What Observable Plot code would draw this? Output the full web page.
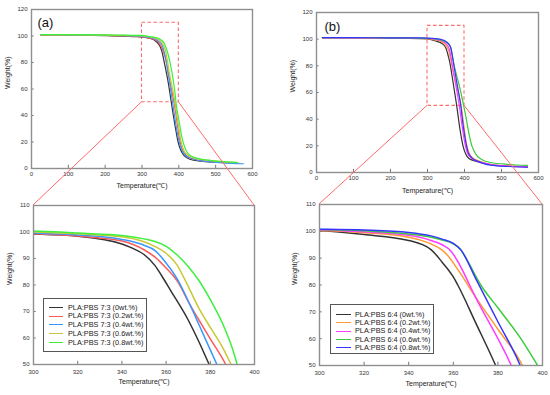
<!DOCTYPE html>
<html><head><meta charset="utf-8">
<script src="https://cdn.jsdelivr.net/npm/d3@7"></script>
<script src="https://cdn.jsdelivr.net/npm/@observablehq/plot@0.6"></script>
<style>
body{margin:0;background:#fff;}
#wrap{position:relative;width:550px;height:395px;overflow:hidden;background:#fff;font-family:"Liberation Sans",Arial,sans-serif;}
#wrap svg{position:absolute;overflow:visible;}
.legend{position:absolute;border:1px solid #555;background:#fff;box-sizing:border-box;}
.legend .row{position:absolute;left:0;right:0;height:0;}
.legend .sw{position:absolute;height:0;border-top:1.6px solid;}
.legend .lb{position:absolute;font-size:7.3px;line-height:1;transform:translateY(-50%);white-space:nowrap;color:#222;}
</style></head>
<body><div id="wrap"></div>
<script>
// ---- labels ----
const namesA = ["PLA:PBS 7:3 (0wt.%)","PLA:PBS 7:3 (0.2wt.%)","PLA:PBS 7:3 (0.4wt.%)","PLA:PBS 7:3 (0.6wt.%)","PLA:PBS 7:3 (0.8wt.%)"];
const namesB = ["PLA:PBS 6:4 (0wt.%)","PLA:PBS 6:4 (0.2wt.%)","PLA:PBS 6:4 (0.4wt.%)","PLA:PBS 6:4 (0.6wt.%)","PLA:PBS 6:4 (0.8wt.%)"];
const colorsA = ["#333333","#ff5a5a","#3a98ff","#c8c832","#3cf03c"];
const colorsB = ["#333333","#ff9a30","#ff3cff","#3ccc3c","#3535ff"];
const xLabel = "Temperature(℃)";
const yLabel = "Weight(%)";
const xTicksFull = [0,100,200,300,400,500,600];
const yTicksFull = [0,20,40,60,80,100,120];
const xTicksZoom = [300,320,340,360,380,400];
const yTicksZoom = [50,60,70,80,90,100,110];
const zoomT = [300,400];
const zoomW = [50,110];

// ---- (a) PLA:PBS 7:3 ----
const tA0 = [25,100,200,250,280,300,320,340,345,350,355,358,362,370,375,379.5,390,398,405,415,430,460,500,560];
const wA0 = [100.9,100.7,100.3,99.9,99.5,99.2,98.4,95.5,93.8,91.5,87.3,83.5,78,66.8,58.3,50,32,20,14,9.5,7,5.5,4.7,3.8];
const tA2 = [25,100,200,250,280,300,320,340,350,355,360,365,371,375,380,387,395,402,410,420,435,460,500,555];
const wA2 = [100.9,100.8,100.4,100.1,99.7,99.3,98.5,96.6,93.3,90.5,86.4,81.6,72.2,66.6,59.7,50,35,22,14,10,7.5,6,5,4.2];
const tA4 = [25,100,200,250,280,300,320,340,350,355,360,365,371,375,380,383,392,400,408,418,435,470,520,575];
const wA4 = [101,100.9,100.5,100.2,99.9,99.6,98.9,97.2,95,93,88.3,82.3,72.2,64.8,55.5,50,33,21,14,10,7.5,5.5,4.3,3.6];
const tA6 = [25,100,200,250,280,300,320,340,350,355,360,365,368.5,375,380,385,389.4,398,405,413,423,440,470,520,560];
const wA6 = [101,100.9,100.6,100.4,100.2,100,99.3,98.2,96.3,94.5,92,87.5,82,71,64,57.3,50,34,22,14,10.5,8,6.5,5,4.5];
const tA8 = [25,100,200,250,280,300,320,340,350,355,360,365,370,375,380,385,390,392.2,400,408,416,426,445,480,530,558];
const wA8 = [101.1,101,100.8,100.6,100.5,100.4,99.6,98.7,97.4,96.4,94.6,91.3,87,81.5,74.5,66.5,56,50,37,24,16,11,8,6.3,5,4.6];

// ---- (b) PLA:PBS 6:4 ----
const tB0 = [16,100,200,250,280,300,320,340,350,355,360,362,370,379,388,396,403,412,430,460,500,570];
const wB0 = [101,100.9,100.8,100.6,100.4,100.2,98.8,96.6,93.2,88.5,83,80,66,50,32,20,14,10.5,8.5,6.5,5,4.2];
const tB2 = [16,100,200,250,280,300,320,340,350,355,357.5,362,370,380,391,398,405,412,420,440,470,520,570];
const wB2 = [101,101,100.9,100.7,100.5,100.3,99.5,97.8,95.3,93,91,85.8,75.5,63.5,50,36,22,15,11.5,8.5,6,5,4.5];
const tB4 = [16,100,200,250,280,300,320,340,350,355,359,361.5,370,386,394,401,408,418,440,470,520,570];
const wB4 = [101.1,101,100.9,100.8,100.6,100.5,99.8,98.5,96.6,95,92.6,89.5,75.4,50,34,22,14.5,11,8,6,4.8,4.3];
const tB6 = [16,100,200,250,280,300,320,340,350,355,360,363,366,372.3,380,390.3,397.8,405,412,420,430,445,470,520,570];
const wB6 = [101.2,101.1,101,100.9,100.8,100.7,100.2,99,97.8,96.8,95.3,93.5,89.5,80,71.5,60,50,40,29,20,14,10,7.5,6,5.3];
const tB8 = [16,100,200,250,280,300,320,340,350,355,360,363.5,370,380,390,397,404,410,420,440,470,520,570];
const wB8 = [101.2,101.1,101,100.9,100.9,100.8,100.5,99.6,98.3,97.1,95.5,93,82.5,66.3,50,34,22,15,11,8,5.5,4.5,4];

const TA = [tA0,tA2,tA4,tA6,tA8], WA = [wA0,wA2,wA4,wA6,wA8];
const TB = [tB0,tB2,tB4,tB6,tB8], WB = [wB0,wB2,wB4,wB6,wB8];

const wrap = document.getElementById("wrap");

function panel(o) {
  const rows = o.names.flatMap((n, k) => o.T[k].map((t, i) => ({t, w: o.W[k][i], n})));
  const xr = o.xDomain, yr = o.yDomain;
  const tlx = (yr[1] - yr[0]) * 0.02, tly = (xr[1] - xr[0]) * 0.012;
  const marks = [
    Plot.ruleX(o.xTicks, {x: d => d, y1: yr[0], y2: yr[0] + tlx, stroke: "#777", strokeWidth: 1}),
    Plot.ruleY(o.yTicks, {y: d => d, x1: xr[0], x2: xr[0] + tly, stroke: "#777", strokeWidth: 1}),
    Plot.axisX(o.xTicks, {tickSize: 0, tickPadding: o.xPad, label: null, fill: "#333"}),
    Plot.axisY(o.yTicks, {tickSize: 0, tickPadding: 4, label: null, fill: "#333"}),
  ];
  if (o.box) marks.push(Plot.rect([{x1: zoomT[0], x2: zoomT[1], y1: zoomW[0], y2: zoomW[1]}],
    {x1: "x1", x2: "x2", y1: "y1", y2: "y2", fill: "none", stroke: "#ff6a6a", strokeWidth: 1.1, strokeDasharray: "3.5,2.5"}));
  marks.push(
    Plot.line(rows, {x: "t", y: "w", z: "n", stroke: "n", strokeWidth: o.lw, curve: "monotone-x", clip: true}),
    Plot.frame({stroke: "#8f8f8f", strokeWidth: 1.4}),
    Plot.text([xLabel], {text: d => d, frameAnchor: "bottom", dy: o.xLabDy, fontSize: 7, fill: "#222"}),
    Plot.text([yLabel], {text: d => d, frameAnchor: "left", dx: o.yLabDx, rotate: -90, fontSize: 7, fill: "#222"})
  );
  if (o.tag) marks.push(Plot.text([o.tag], {text: d => d, frameAnchor: "top-left", dx: o.tagDx, dy: o.tagDy, textAnchor: "start", lineAnchor: "middle", fontSize: 13, fill: "#111"}));
  const p = Plot.plot({
    width: o.w, height: o.h,
    marginLeft: o.m[0], marginRight: o.m[1], marginTop: o.m[2], marginBottom: o.m[3],
    x: {domain: xr}, y: {domain: yr},
    color: {domain: o.names, range: o.colors},
    style: {background: "transparent", overflow: "visible", fontSize: "6px", fontFamily: "Liberation Sans, Arial, sans-serif", color: "#333"},
    marks
  });
  p.style.left = o.left + "px";
  p.style.top = o.top + "px";
  wrap.appendChild(p);
  return p;
}

const topA = panel({names: namesA, colors: colorsA, T: TA, W: WA, xDomain: [0,600], yDomain: [0,120],
  xTicks: xTicksFull, yTicks: yTicksFull, w: 275, h: 190, m: [31,23,9,22], left: 0, top: 0,
  lw: 1.2, xPad: 3, xLabDy: 19, yLabDx: -24, box: true, tag: "(a)", tagDx: 6, tagDy: 13});
const topB = panel({names: namesB, colors: colorsB, T: TB, W: WB, xDomain: [0,600], yDomain: [0,120],
  xTicks: xTicksFull, yTicks: yTicksFull, w: 275, h: 190, m: [41,12,12,18], left: 275, top: 0,
  lw: 1.2, xPad: 3, xLabDy: 20, yLabDx: -24, box: true, tag: "(b)", tagDx: 8, tagDy: 14});
const botA = panel({names: namesA, colors: colorsA, T: TA, W: WA, xDomain: zoomT, yDomain: zoomW,
  xTicks: xTicksZoom, yTicks: yTicksZoom, w: 275, h: 205, m: [33,21,15,31], left: 0, top: 190,
  lw: 1.5, xPad: 5, xLabDy: 19.5, yLabDx: -24});
const botB = panel({names: namesB, colors: colorsB, T: TB, W: WB, xDomain: zoomT, yDomain: zoomW,
  xTicks: xTicksZoom, yTicks: yTicksZoom, w: 275, h: 205, m: [44,8,14,30], left: 275, top: 190,
  lw: 1.5, xPad: 5, xLabDy: 20, yLabDx: -24.5});

// connecting lines (from zoom box corners to zoomed panel corners)
const ov = d3.select(wrap).append("svg").attr("width", 550).attr("height", 395)
  .style("left", "0px").style("top", "0px").style("pointer-events", "none");
function connect(src, sl, st, dst, dl, dtop) {
  const sx = src.scale("x"), sy = src.scale("y"), dx = dst.scale("x"), dy = dst.scale("y");
  zoomT.forEach(t => {
    ov.append("line")
      .attr("x1", sl + sx.apply(t)).attr("y1", st + sy.apply(zoomW[0]))
      .attr("x2", dl + dx.apply(t)).attr("y2", dtop + dy.apply(zoomW[1]))
      .attr("stroke", "#ff6a6a").attr("stroke-width", 1);
  });
}
connect(topA, 0, 0, botA, 0, 190);
connect(topB, 275, 0, botB, 275, 190);

// legends
function legend(names, colors, box, first, gap, lx1, lx2, tx) {
  const d = document.createElement("div");
  d.className = "legend";
  Object.assign(d.style, {left: box[0] + "px", top: box[1] + "px", width: box[2] + "px", height: box[3] + "px"});
  names.forEach((n, i) => {
    const r = document.createElement("div");
    r.className = "row";
    r.style.top = (first + i * gap) + "px";
    const s = document.createElement("div");
    s.className = "sw";
    Object.assign(s.style, {left: lx1 + "px", width: (lx2 - lx1) + "px", borderTopColor: colors[i], top: "-0.8px"});
    const l = document.createElement("div");
    l.className = "lb";
    l.style.left = tx + "px";
    l.textContent = n;
    r.appendChild(s); r.appendChild(l);
    d.appendChild(r);
  });
  wrap.appendChild(d);
}
legend(namesA, colorsA, [43, 298, 104, 54], 8.5, 8.85, 5, 19, 24);
legend(namesB, colorsB, [330, 304, 104, 50], 9.5, 8.4, 5, 20, 24);
</script>
</body></html>
